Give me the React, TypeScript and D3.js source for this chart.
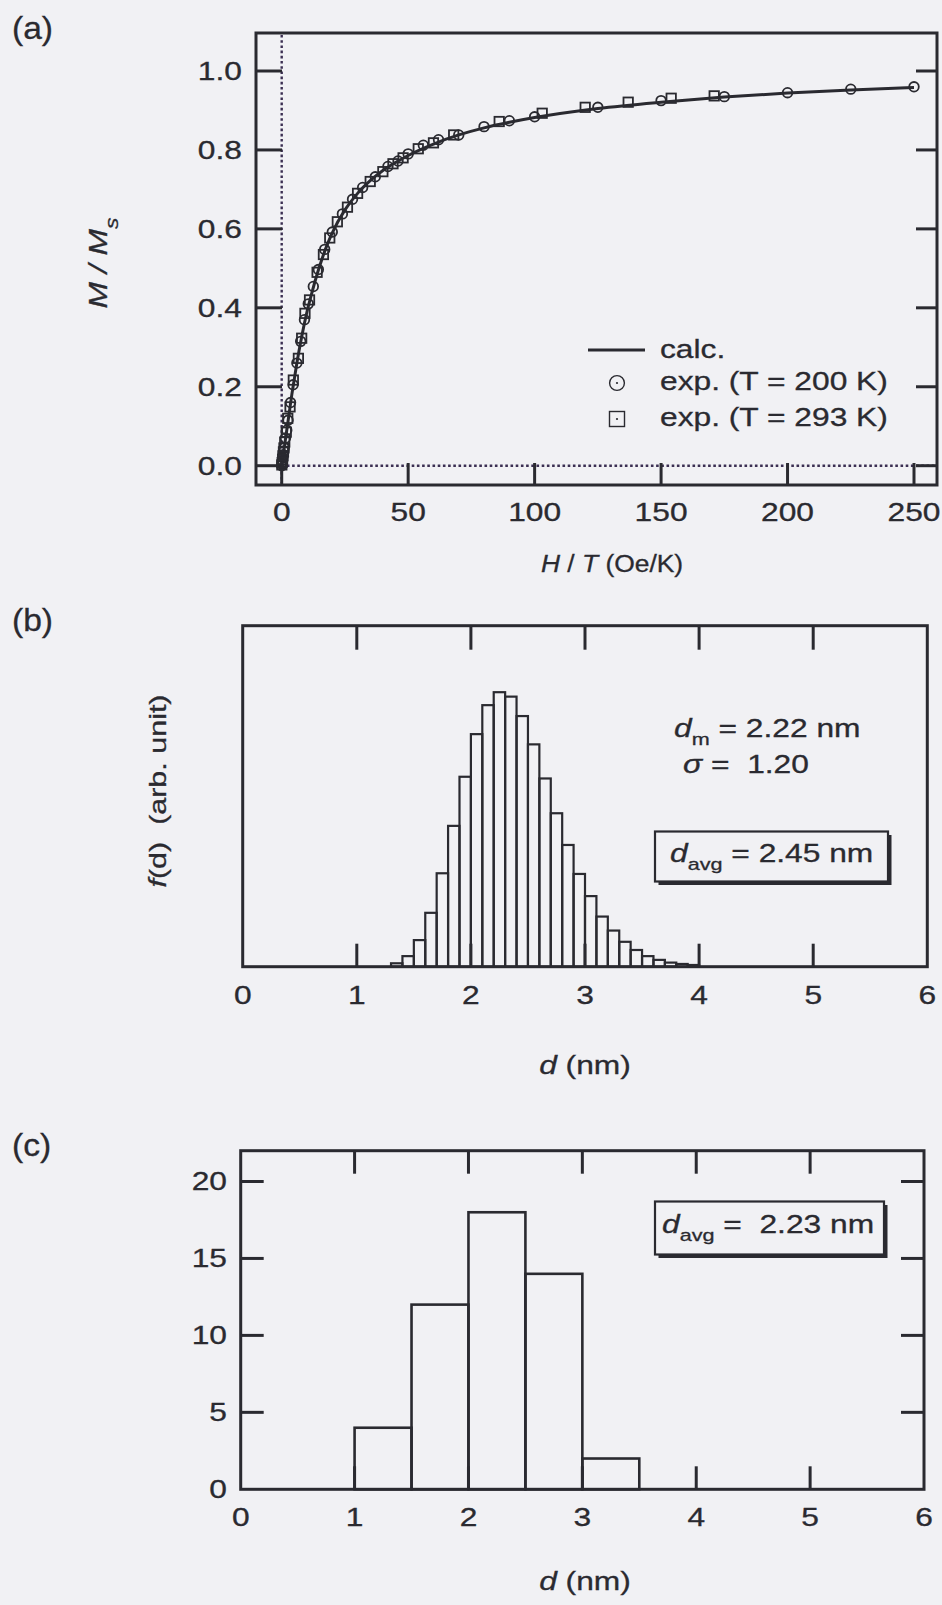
import React from 'react';
import * as d3 from 'd3';

const INK = '#2a2a30';
const DOT = '#3b2f52';
const BG = '#f1f1f4';
const FONT = '"Liberation Sans", Arial, Helvetica, sans-serif';
const SX = 1.27;
const FS = 25;

// ---------- (a) reduced magnetization vs H/T ----------
const calcH = [0, 1, 2, 3, 4, 5, 6, 8, 10, 12, 14, 16, 18, 20, 25, 30, 35, 40, 45, 50, 60, 70, 80, 90, 100, 125, 150, 175, 200, 225, 250];
const calcM = [0, 0.045, 0.09, 0.135, 0.18, 0.22, 0.26, 0.33, 0.39, 0.44, 0.485, 0.525, 0.56, 0.59, 0.648, 0.69, 0.722, 0.748, 0.768, 0.786, 0.815, 0.838, 0.856, 0.87, 0.882, 0.905, 0.921, 0.934, 0.944, 0.952, 0.958];

const exp200H = [250, 225, 200, 175, 150, 125, 100, 90, 80, 70, 62, 56, 50, 46, 42, 37, 32, 28, 24, 20, 17, 14.5, 12.5, 10.5, 9, 7.5, 6, 4.5, 3.5, 2.5, 2, 1.5, 1, 0.8, 0.6, 0.4, 0.3, 0.2, 0.1, 0];
const exp200M = [0.960, 0.954, 0.945, 0.935, 0.925, 0.908, 0.884, 0.874, 0.859, 0.838, 0.826, 0.812, 0.79, 0.772, 0.758, 0.732, 0.705, 0.675, 0.638, 0.592, 0.548, 0.497, 0.454, 0.41, 0.37, 0.315, 0.26, 0.205, 0.16, 0.115, 0.09, 0.07, 0.045, 0.037, 0.028, 0.02, 0.013, 0.009, 0.004, 0];

const exp293H = [171, 154, 137, 120, 103, 86, 68, 60, 54, 48, 44, 40, 35, 30, 26, 22, 19, 16.5, 14, 11, 9.2, 7.9, 6.6, 4.6, 3.3, 2.4, 1.8, 1.2, 0.9, 0.7, 0.5, 0.35, 0.2, 0.05];
const exp293M = [0.937, 0.931, 0.921, 0.908, 0.893, 0.872, 0.838, 0.818, 0.803, 0.78, 0.765, 0.745, 0.72, 0.69, 0.655, 0.618, 0.577, 0.535, 0.49, 0.42, 0.386, 0.323, 0.272, 0.217, 0.149, 0.12, 0.085, 0.06, 0.045, 0.035, 0.025, 0.016, 0.008, 0.002];

const aXTicks = [0, 50, 100, 150, 200, 250];
const aYTicks = [0, 0.2, 0.4, 0.6, 0.8, 1.0];

// ---------- (b) log-normal size distribution ----------
const bBinStart = [1.3, 1.4, 1.5, 1.6, 1.7, 1.8, 1.9, 2.0, 2.1, 2.2, 2.3, 2.4, 2.5, 2.6, 2.7, 2.8, 2.9, 3.0, 3.1, 3.2, 3.3, 3.4, 3.5, 3.6, 3.7, 3.8, 3.9];
const bHeights = [1.0, 3.1, 7.8, 15.8, 27.4, 41.3, 55.7, 68.2, 76.7, 80.5, 79.2, 73.5, 65.2, 55.2, 45.0, 35.7, 27.2, 20.7, 14.7, 10.6, 7.3, 4.9, 3.1, 2.0, 1.2, 0.8, 0.5];
const bBinWidth = 0.1;

// ---------- (c) measured size histogram ----------
const cBinStart = [1.0, 1.5, 2.0, 2.5, 3.0];
const cCounts = [4, 12, 18, 14, 2];
const cBinWidth = 0.5;
const cYTicks = [0, 5, 10, 15, 20];

const dTicks = [0, 1, 2, 3, 4, 5, 6];
const dInner = [1, 2, 3, 4, 5];

type TProps = {
  x: number; y: number; anchor?: 'start' | 'middle' | 'end'; size?: number; sx?: number;
  rotate?: number; italic?: boolean; children?: React.ReactNode;
};

function T({ x, y, anchor = 'start', size = FS, sx = SX, rotate = 0, italic = false, children }: TProps) {
  const tr = `translate(${x},${y})${rotate ? ` rotate(${rotate})` : ''} scale(${sx},1)`;
  return (
    <text transform={tr} textAnchor={anchor} fontSize={size} fontFamily={FONT} fill={INK}
      stroke={INK} strokeWidth={0.3}
      fontStyle={italic ? 'italic' : 'normal'} style={{ whiteSpace: 'pre' }}>
      {children}
    </text>
  );
}

function Frame({ l, r, t, b }: { l: number; r: number; t: number; b: number }) {
  return <rect x={l} y={t} width={r - l} height={b - t} fill="none" stroke={INK} strokeWidth={3} />;
}

function ShadowBox({ x, y, w, h }: { x: number; y: number; w: number; h: number }) {
  return (
    <g>
      <rect x={x + 3.5} y={y + 3.5} width={w} height={h} fill={INK} />
      <rect x={x} y={y} width={w} height={h} fill={BG} stroke={INK} strokeWidth={2.2} />
    </g>
  );
}

function PanelA() {
  const L = 256, R = 937, Tp = 33, B = 485;
  const x = d3.scaleLinear().domain([0, 250]).range([281.7, 914]);
  const y = d3.scaleLinear().domain([0, 1]).range([465.7, 71]);
  const calc = calcH.map((h, i) => [h, calcM[i]] as [number, number]);
  const line = d3.line<[number, number]>().x(d => x(d[0])).y(d => y(d[1])).curve(d3.curveMonotoneX);
  return (
    <g>
      <T x={12} y={39} size={32} sx={1.05}>(a)</T>
      {/* zero reference lines */}
      <line x1={x(0)} x2={x(0)} y1={Tp + 2} y2={B - 2} stroke={DOT} strokeWidth={2.4} strokeDasharray="2.6,2.6" />
      <line x1={x(0)} x2={R - 2} y1={y(0)} y2={y(0)} stroke={DOT} strokeWidth={2.4} strokeDasharray="2.6,2.6" />
      <Frame l={L} r={R} t={Tp} b={B} />
      {aYTicks.map(v => (
        <g key={'ay' + v}>
          <line x1={L} x2={L + 26} y1={y(v)} y2={y(v)} stroke={INK} strokeWidth={3} />
          <line x1={R} x2={R - 21} y1={y(v)} y2={y(v)} stroke={INK} strokeWidth={3} />
          <T x={242} y={y(v) + 9} anchor="end">{v.toFixed(1)}</T>
        </g>
      ))}
      {aXTicks.map(v => (
        <g key={'ax' + v}>
          <line x1={x(v)} x2={x(v)} y1={B} y2={B - 22} stroke={INK} strokeWidth={3} />
          <T x={x(v)} y={521} anchor="middle">{String(v)}</T>
        </g>
      ))}
      <path d={line(calc) || ''} fill="none" stroke={INK} strokeWidth={3} />
      {exp200H.map((h, i) => (
        <circle key={'c' + i} cx={x(h)} cy={y(exp200M[i])} r={4.8} fill="none" stroke={INK} strokeWidth={1.8} />
      ))}
      {exp293H.map((h, i) => (
        <rect key={'s' + i} x={x(h) - 4.7} y={y(exp293M[i]) - 4.7} width={9.4} height={9.4} fill="none" stroke={INK} strokeWidth={1.8} />
      ))}
      {/* legend */}
      <line x1={588} x2={645} y1={350} y2={350} stroke={INK} strokeWidth={3} />
      <T x={660} y={358}>calc.</T>
      <circle cx={617} cy={383} r={7.4} fill="none" stroke={INK} strokeWidth={1.4} />
      <circle cx={617} cy={383} r={1.1} fill={INK} />
      <T x={660} y={390}>exp. (T = 200 K)</T>
      <rect x={609.5} y={411.5} width={15} height={15} fill="none" stroke={INK} strokeWidth={1.4} />
      <circle cx={617} cy={419} r={1.1} fill={INK} />
      <T x={660} y={426}>exp. (T = 293 K)</T>
      {/* axis titles */}
      <T x={612} y={572} anchor="middle" size={24} sx={1.1}>
        <tspan fontStyle="italic">H</tspan> / <tspan fontStyle="italic">T</tspan> (Oe/K)
      </T>
      <T x={107} y={263} anchor="middle" rotate={-90} italic>
        M / M<tspan fontSize={18} dy={11}>s</tspan>
      </T>
    </g>
  );
}

function PanelB() {
  const L = 242.7, R = 927.3, Tp = 625.7, B = 966.7;
  const x = d3.scaleLinear().domain([0, 6]).range([L, R]);
  const y = d3.scaleLinear().domain([0, 100]).range([B, Tp]);
  return (
    <g>
      <T x={12} y={631} size={32} sx={1.05}>(b)</T>
      {bBinStart.map((s, i) => (
        <rect key={'b' + i} x={x(s)} y={y(bHeights[i])} width={x(s + bBinWidth) - x(s)} height={y(0) - y(bHeights[i])}
          fill="none" stroke={INK} strokeWidth={2.2} />
      ))}
      <Frame l={L} r={R} t={Tp} b={B} />
      {dInner.map(v => (
        <g key={'bt' + v}>
          <line x1={x(v)} x2={x(v)} y1={Tp} y2={Tp + 24} stroke={INK} strokeWidth={3} />
          <line x1={x(v)} x2={x(v)} y1={B} y2={B - 23} stroke={INK} strokeWidth={3} />
        </g>
      ))}
      {dTicks.map(v => (
        <T key={'bl' + v} x={x(v)} y={1004} anchor="middle">{String(v)}</T>
      ))}
      <T x={674} y={737}>
        <tspan fontStyle="italic">d</tspan>
        <tspan fontSize={17} dy={8}>m</tspan>
        <tspan dy={-8}> = 2.22 nm</tspan>
      </T>
      <T x={683} y={773}>
        <tspan fontStyle="italic">σ</tspan> =  1.20
      </T>
      <ShadowBox x={655} y={831.5} w={233} h={50} />
      <T x={670} y={862}>
        <tspan fontStyle="italic">d</tspan>
        <tspan fontSize={17} dy={8}>avg</tspan>
        <tspan dy={-8}> = 2.45 nm</tspan>
      </T>
      <T x={585} y={1074} anchor="middle">
        <tspan fontStyle="italic">d</tspan> (nm)
      </T>
      <T x={166} y={791} anchor="middle" rotate={-90} size={24}>
        <tspan fontStyle="italic">f</tspan>(d)  (arb. unit)
      </T>
    </g>
  );
}

function PanelC() {
  const L = 240.7, R = 924, Tp = 1150.7, B = 1489.3;
  const x = d3.scaleLinear().domain([0, 6]).range([L, R]);
  const y = d3.scaleLinear().domain([0, 22]).range([B, Tp]);
  return (
    <g>
      <T x={12} y={1156} size={32} sx={1.05}>(c)</T>
      {cBinStart.map((s, i) => (
        <rect key={'c' + i} x={x(s)} y={y(cCounts[i])} width={x(s + cBinWidth) - x(s)} height={y(0) - y(cCounts[i])}
          fill="none" stroke={INK} strokeWidth={2.6} />
      ))}
      <Frame l={L} r={R} t={Tp} b={B} />
      {dInner.map(v => (
        <g key={'ct' + v}>
          <line x1={x(v)} x2={x(v)} y1={Tp} y2={Tp + 23} stroke={INK} strokeWidth={3} />
          <line x1={x(v)} x2={x(v)} y1={B} y2={B - 23} stroke={INK} strokeWidth={3} />
        </g>
      ))}
      {cYTicks.filter(v => v > 0).map(v => (
        <g key={'cy' + v}>
          <line x1={L} x2={L + 23} y1={y(v)} y2={y(v)} stroke={INK} strokeWidth={3} />
          <line x1={R} x2={R - 23} y1={y(v)} y2={y(v)} stroke={INK} strokeWidth={3} />
        </g>
      ))}
      {cYTicks.map(v => (
        <T key={'cyl' + v} x={227} y={y(v) + 9} anchor="end">{String(v)}</T>
      ))}
      {dTicks.map(v => (
        <T key={'cl' + v} x={x(v)} y={1526} anchor="middle">{String(v)}</T>
      ))}
      <ShadowBox x={655} y={1201.5} w={229} h={53} />
      <T x={662} y={1233}>
        <tspan fontStyle="italic">d</tspan>
        <tspan fontSize={17} dy={8}>avg</tspan>
        <tspan dy={-8}> =  2.23 nm</tspan>
      </T>
      <T x={585} y={1590} anchor="middle">
        <tspan fontStyle="italic">d</tspan> (nm)
      </T>
    </g>
  );
}

export default function App() {
  return (
    <svg width={942} height={1605} viewBox="0 0 942 1605"
      style={{ position: 'absolute', left: 0, top: 0, display: 'block', background: BG }}>
      <rect x={0} y={0} width={942} height={1605} fill={BG} />
      <PanelA />
      <PanelB />
      <PanelC />
    </svg>
  );
}
